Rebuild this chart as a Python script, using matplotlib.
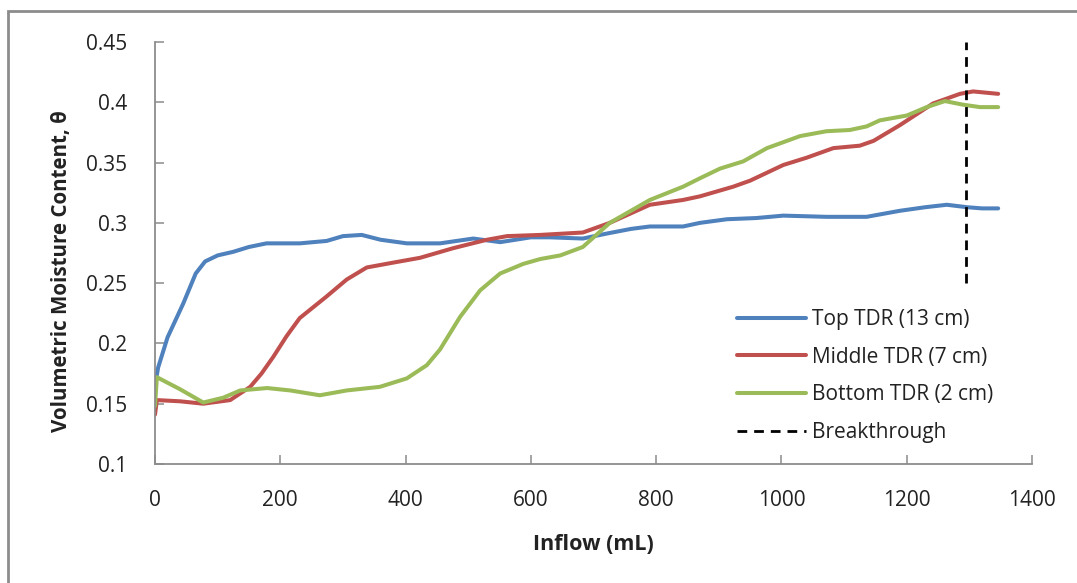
import matplotlib
matplotlib.use("Agg")
import matplotlib.pyplot as plt
from matplotlib.patches import Rectangle

# ---- data ----
top_x = [0, 5, 20, 45, 65, 80, 100, 125, 150, 178, 231, 274, 300, 330, 360, 402, 455, 508,
         551, 600, 630, 683, 720, 760, 790, 843, 870, 913, 960, 1003, 1072, 1136, 1189,
         1230, 1264, 1296, 1320, 1346]
top_y = [0.165, 0.180, 0.205, 0.233, 0.258, 0.268, 0.273, 0.276, 0.280, 0.283, 0.283, 0.285,
         0.289, 0.290, 0.286, 0.283, 0.283, 0.287, 0.284, 0.288, 0.288, 0.287, 0.291, 0.295,
         0.297, 0.297, 0.300, 0.303, 0.304, 0.306, 0.305, 0.305, 0.310, 0.313, 0.315, 0.313,
         0.312, 0.312]

mid_x = [0, 3, 40, 77, 120, 152, 170, 189, 210, 231, 274, 306, 338, 380, 423, 476, 530, 562,
         615, 683, 726, 790, 843, 870, 923, 950, 1003, 1040, 1083, 1125, 1147, 1189, 1242,
         1285, 1306, 1346]
mid_y = [0.141, 0.153, 0.152, 0.150, 0.153, 0.164, 0.175, 0.189, 0.206, 0.221, 0.239, 0.253,
         0.263, 0.267, 0.271, 0.279, 0.286, 0.289, 0.290, 0.292, 0.300, 0.315, 0.319, 0.322,
         0.330, 0.335, 0.348, 0.354, 0.362, 0.364, 0.368, 0.381, 0.399, 0.407, 0.409, 0.407]

bot_x = [0, 3, 40, 77, 109, 136, 179, 216, 263, 306, 359, 402, 434, 455, 487, 519, 551, 588,
         615, 647, 683, 726, 790, 843, 870, 902, 939, 977, 1030, 1072, 1109, 1136, 1157, 1200,
         1232, 1261, 1290, 1317, 1346]
bot_y = [0.148, 0.172, 0.162, 0.151, 0.155, 0.161, 0.163, 0.161, 0.157, 0.161, 0.164, 0.171,
         0.182, 0.195, 0.222, 0.244, 0.258, 0.266, 0.270, 0.273, 0.280, 0.300, 0.319, 0.330,
         0.337, 0.345, 0.351, 0.362, 0.372, 0.376, 0.377, 0.380, 0.385, 0.389, 0.396, 0.401,
         0.398, 0.396, 0.396]

break_x = [1295, 1295]
break_y = [0.25, 0.45]

labels = ["Top TDR (13 cm)", "Middle TDR (7 cm)", "Bottom TDR (2 cm)", "Breakthrough"]
x_ticks = [0, 200, 400, 600, 800, 1000, 1200, 1400]
y_ticks = [0.1, 0.15, 0.2, 0.25, 0.3, 0.35, 0.4, 0.45]
y_ticklabels = ["0.1", "0.15", "0.2", "0.25", "0.3", "0.35", "0.4", "0.45"]

# ---- figure ----
plt.rcParams['font.family'] = ['Open Sans', 'DejaVu Sans']
W, H = 1077, 583
fig = plt.figure(figsize=(W / 100, H / 100), dpi=100)
fig.patch.set_facecolor('white')
fig.patches.append(Rectangle((8 / W, -0.05), 1.2, 1 - 11 / H + 0.05,
                             transform=fig.transFigure, fill=False,
                             edgecolor='#8c8c8c', linewidth=2))

ax = fig.add_axes([155 / W, 1 - 464 / H, (1032 - 155) / W, (464 - 42) / H])
lw = 2.9
kw = dict(lw=lw, solid_capstyle='round', solid_joinstyle='round')
ax.plot(top_x, top_y, color='#4F81BD', label=labels[0], **kw)
ax.plot(mid_x, mid_y, color='#C0504D', label=labels[1], **kw)
ax.plot(bot_x, bot_y, color='#9BBB59', label=labels[2], **kw)
ax.plot(break_x, break_y, color='black', lw=2.0, linestyle=(0, (3.5, 2.5)), label=labels[3])

ax.set_xlim(0, 1400)
ax.set_ylim(0.1, 0.45)
ax.set_xticks(x_ticks)
ax.set_xticklabels([str(v) for v in x_ticks])
ax.set_yticks(y_ticks)
ax.set_yticklabels(y_ticklabels)

for s in ['top', 'right']:
    ax.spines[s].set_visible(False)
for s in ['left', 'bottom']:
    ax.spines[s].set_color('#8c8c8c')
    ax.spines[s].set_linewidth(1.3)
ax.tick_params(axis='both', direction='in', length=6.5, width=1.1, color='#8c8c8c',
               labelsize=15, labelcolor='#222222')
ax.tick_params(axis='x', pad=19)
ax.tick_params(axis='y', pad=20)

fig.text(62 / W, 1 - 271 / H, "Volumetric Moisture Content, θ", rotation=90,
         ha='center', va='center', fontsize=14.8, fontweight='bold', color='#222222')
fig.text(593 / W, 1 - 545 / H, "Inflow (mL)", ha='center', va='center',
         fontsize=15.5, fontweight='bold', color='#222222')

leg = ax.legend(loc='upper left', bbox_to_anchor=(737 / W, 1 - 309 / H),
                bbox_transform=fig.transFigure, frameon=False, fontsize=15,
                handlelength=3.3, handletextpad=0.3, labelspacing=0.8,
                borderaxespad=0, borderpad=0)
for t in leg.get_texts():
    t.set_color('#222222')

fig.savefig("out.png", dpi=100, facecolor='white')
